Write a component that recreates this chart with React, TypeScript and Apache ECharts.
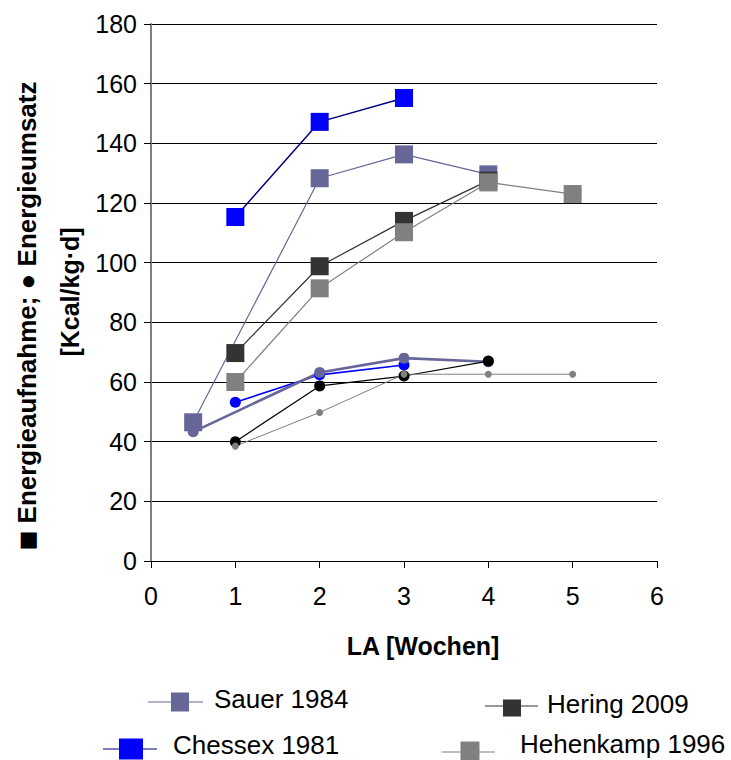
import React, { useEffect, useRef } from "react";
import * as echarts from "echarts";

// Lactation weeks (LA [Wochen]) and values per study, in kcal/kg·d
const weeksSauer = [0.5, 2, 3, 4];
const intakeSauer = [46.5, 128.3, 136.3, 129.6];
const expenditureSauer = [43.3, 63.2, 68.0, 66.8];

const weeksChessex = [1, 2, 3];
const intakeChessex = [115.3, 147.2, 155.2];
const expenditureChessex = [53.2, 62.4, 65.7];

const weeksHering = [1, 2, 3, 4];
const intakeHering = [69.7, 98.8, 114.0, 127.5];
const expenditureHering = [40.0, 58.7, 62.0, 67.0];

const weeksHehenkamp = [1, 2, 3, 4, 5];
const intakeHehenkamp = [60.0, 91.4, 110.2, 126.9, 123.0];
const expenditureHehenkamp = [38.5, 49.8, 62.6, 62.6, 62.6];

const studyNames = ["Sauer 1984", "Chessex 1981", "Hering 2009", "Hehenkamp 1996"];

const yTicks = { min: 0, max: 180, step: 20 };
const xTicks = { min: 0, max: 6, step: 1 };

const FONT = "'Liberation Sans', Arial, Helvetica, sans-serif";

const pairs = (xs: number[], ys: number[]) => xs.map((x, i) => [x, ys[i]]);

const squareSeries = (
  name: string,
  xs: number[],
  ys: number[],
  fill: string,
  line: string,
  width: number
) => ({
  name,
  type: "line",
  data: pairs(xs, ys),
  symbol: "rect",
  symbolSize: 18,
  showSymbol: true,
  itemStyle: { color: fill },
  lineStyle: { color: line, width },
  emphasis: { disabled: true },
});

const circleSeries = (
  name: string,
  xs: number[],
  ys: number[],
  fill: string,
  line: string,
  width: number,
  size: number
) => ({
  name,
  type: "line",
  data: pairs(xs, ys),
  symbol: "circle",
  symbolSize: size,
  showSymbol: true,
  itemStyle: { color: fill },
  lineStyle: { color: line, width },
  emphasis: { disabled: true },
});

// Legend entries: line, square marker and label, laid out in two rows
const legendLayout = [
  { lineX: [148, 203], y: 702, sq: [180, 702, 18, 19], textX: 214, textY: 699, fill: "#666699", line: "#666699" },
  { lineX: [103, 157], y: 749, sq: [131, 749, 24, 21], textX: 173, textY: 745, fill: "#0000FF", line: "#000080" },
  { lineX: [485, 538], y: 706, sq: [512, 708, 18, 17], textX: 547, textY: 704, fill: "#333333", line: "#333333" },
  { lineX: [442, 495], y: 752, sq: [470, 751, 19, 19], textX: 520, textY: 744, fill: "#808080", line: "#808080" },
];

const legendGraphics = () =>
  legendLayout.flatMap((l, i) => [
    {
      type: "line",
      shape: { x1: l.lineX[0], y1: l.y, x2: l.lineX[1], y2: l.y },
      style: { stroke: l.line, lineWidth: 1.2 },
      silent: true,
    },
    {
      type: "rect",
      shape: { x: l.sq[0] - l.sq[2] / 2, y: l.sq[1] - l.sq[3] / 2, width: l.sq[2], height: l.sq[3] },
      style: { fill: l.fill },
      silent: true,
    },
    {
      type: "text",
      x: l.textX,
      y: l.textY,
      style: {
        text: studyNames[i],
        font: `26px ${FONT}`,
        fill: "#000",
        textAlign: "left",
        textVerticalAlign: "middle",
      },
      silent: true,
    },
  ]);

export default function App() {
  const ref = useRef<HTMLDivElement>(null);

  useEffect(() => {
    document.body.style.margin = "0";
    if (!ref.current) return;
    const chart = echarts.init(ref.current, undefined, { renderer: "svg" });

    chart.setOption({
      animation: false,
      backgroundColor: "#ffffff",
      grid: { left: 151, top: 24, width: 506, height: 537, containLabel: false },
      xAxis: {
        type: "value",
        min: xTicks.min,
        max: xTicks.max,
        interval: xTicks.step,
        axisLine: { show: true, lineStyle: { color: "#000", width: 1 } },
        axisTick: { show: true, length: 7, lineStyle: { color: "#000" } },
        axisLabel: { color: "#000", fontSize: 25, fontFamily: FONT, margin: 22 },
        splitLine: { show: false },
      },
      yAxis: {
        type: "value",
        min: yTicks.min,
        max: yTicks.max,
        interval: yTicks.step,
        axisLine: { show: true, lineStyle: { color: "#808080", width: 2 } },
        axisTick: { show: true, length: 7, lineStyle: { color: "#000" } },
        axisLabel: { color: "#000", fontSize: 25, fontFamily: FONT, margin: 14 },
        splitLine: { show: true, lineStyle: { color: "#000", width: 1 } },
      },
      series: [
        squareSeries(studyNames[0], weeksSauer, intakeSauer, "#666699", "#666699", 1.2),
        squareSeries(studyNames[1], weeksChessex, intakeChessex, "#0000FF", "#000080", 1.5),
        squareSeries(studyNames[2], weeksHering, intakeHering, "#333333", "#333333", 1.2),
        squareSeries(studyNames[3], weeksHehenkamp, intakeHehenkamp, "#808080", "#808080", 1.2),
        circleSeries(studyNames[1], weeksChessex, expenditureChessex, "#0000FF", "#0000FF", 1.6, 11),
        circleSeries(studyNames[0], weeksSauer, expenditureSauer, "#666699", "#666699", 2.6, 11),
        circleSeries(studyNames[2], weeksHering, expenditureHering, "#000000", "#000000", 1.2, 11),
        circleSeries(studyNames[3], weeksHehenkamp, expenditureHehenkamp, "#808080", "#808080", 1, 7),
      ],
      graphic: [
        {
          type: "text",
          x: 27,
          y: 316,
          rotation: Math.PI / 2,
          style: {
            text: "{sq|■} Energieaufnahme; ● Energieumsatz",
            font: `bold 26px ${FONT}`,
            fill: "#000",
            textAlign: "center",
            textVerticalAlign: "middle",
            rich: {
              sq: { fontSize: 21, fontFamily: "DejaVu Sans", fill: "#000" },
            },
          },
          silent: true,
        },
        {
          type: "text",
          x: 70,
          y: 292,
          rotation: Math.PI / 2,
          style: {
            text: "[Kcal/kg·d]",
            font: `bold 25px ${FONT}`,
            fill: "#000",
            textAlign: "center",
            textVerticalAlign: "middle",
          },
          silent: true,
        },
        {
          type: "text",
          x: 423,
          y: 646,
          style: {
            text: "LA [Wochen]",
            font: `bold 25px ${FONT}`,
            fill: "#000",
            textAlign: "center",
            textVerticalAlign: "middle",
          },
          silent: true,
        },
        ...legendGraphics(),
      ],
    });

    return () => chart.dispose();
  }, []);

  return <div ref={ref} style={{ width: 731, height: 760 }} />;
}
